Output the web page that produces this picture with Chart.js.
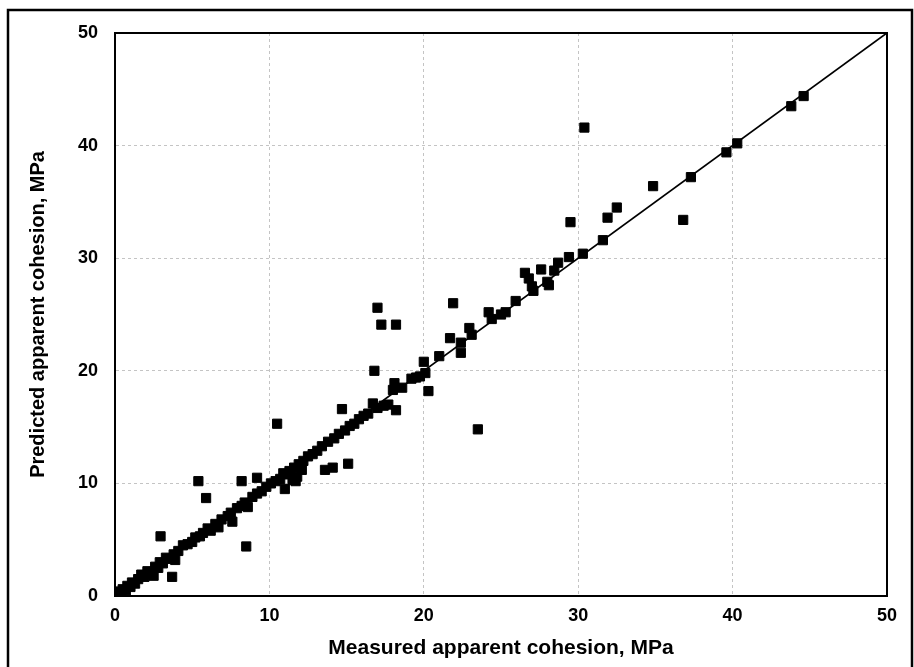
<!DOCTYPE html>
<html>
<head>
<meta charset="utf-8">
<script src="https://cdn.jsdelivr.net/npm/chart.js@4.4.1/dist/chart.umd.min.js"></script>
<style>
  html, body { margin: 0; padding: 0; background: #fff; }
  #wrap { width: 914px; height: 667px; position: relative; }
</style>
</head>
<body>
<div id="wrap"><canvas id="cohesionChart" width="914" height="667"></canvas></div>
<script>
// measured vs predicted apparent cohesion (MPa)
const measured = [
  0.1, 0.2, 0.4, 0.5, 0.7, 0.8, 1.0, 1.1, 1.3, 1.5, 1.7, 1.9, 2.1, 2.3, 2.5, 2.6, 2.8, 2.9, 3.1, 3.3,
  3.5, 3.7, 3.8, 3.9, 4.1, 4.4, 4.7, 5.0, 5.2, 5.5, 5.7, 6.0, 6.2, 6.5, 6.7, 6.9, 7.3, 7.5, 7.6, 7.9,
  8.2, 8.4, 8.6, 8.9, 9.2, 9.5, 9.8, 10.1, 10.4,
  2.95, 5.4, 5.9, 8.2, 8.5, 9.2, 10.5,
  10.7, 10.9, 11.0, 11.1, 11.3, 11.5, 11.6, 11.7, 11.8, 11.9, 12.1, 12.2, 12.5, 12.8, 13.1, 13.4, 13.6, 13.8,
  14.1, 14.2, 14.5, 14.7, 14.9, 15.1, 15.2, 15.5, 15.8, 16.1, 16.4, 16.7, 16.8, 17.0, 17.0, 17.25,
  17.4, 17.7, 18.0, 18.1, 18.2, 18.2, 18.6, 19.2, 19.5, 19.75, 20.0, 20.3, 20.1,
  21.0, 21.7, 21.9, 22.4, 22.4, 22.95, 23.1, 23.5, 24.2, 24.4, 25.0, 25.3, 25.95, 26.55, 26.8, 27.0,
  27.1, 27.6, 28.0, 28.1, 28.45, 28.7, 29.4, 29.5, 30.3, 30.4,
  31.6, 31.9, 32.5, 34.85, 36.8, 37.3, 39.6, 40.3, 43.8, 44.6
];
const predicted = [
  0.1, 0.4, 0.2, 0.6, 0.5, 0.9, 0.8, 1.2, 1.1, 1.5, 1.9, 1.7, 2.2, 1.9, 1.8, 2.6, 2.5, 3.0, 2.9, 3.4,
  3.3, 1.7, 3.7, 3.2, 4.0, 4.5, 4.6, 4.8, 5.2, 5.3, 5.6, 6.0, 5.8, 6.4, 6.1, 6.8, 7.1, 7.4, 6.6, 7.8,
  8.0, 8.3, 7.9, 8.8, 9.1, 9.3, 9.7, 10.0, 10.2,
  5.3, 10.2, 8.7, 10.2, 4.4, 10.5, 15.3,
  10.4, 10.9, 9.5, 10.8, 11.1, 10.3, 11.4, 10.2, 10.6, 11.7, 11.2, 12.0, 12.4, 12.6, 12.9, 13.3, 11.2, 13.7,
  11.4, 14.0, 14.4, 16.6, 14.7, 11.75, 15.1, 15.3, 15.7, 16.0, 16.2, 17.1, 20.0, 16.7, 25.6, 24.1,
  16.9, 17.0, 18.3, 18.9, 16.5, 24.1, 18.5, 19.3, 19.4, 19.5, 20.8, 18.2, 19.8,
  21.3, 22.9, 26.0, 22.5, 21.6, 23.8, 23.2, 14.8, 25.2, 24.6, 25.0, 25.2, 26.2, 28.7, 28.2, 27.5,
  27.1, 29.0, 27.9, 27.6, 28.9, 29.6, 30.1, 33.2, 30.4, 41.6,
  31.6, 33.6, 34.5, 36.4, 33.4, 37.2, 39.4, 40.2, 43.5, 44.4
];
const axisTicks = [0, 10, 20, 30, 40, 50];
const lineEnds = [0, 50];

const points = measured.map((x, i) => ({ x, y: predicted[i] }));
const oneToOne = lineEnds.map(v => ({ x: v, y: v }));

// outer picture frame and closed plot box
const framePlugin = {
  id: 'frame',
  afterDraw(chart) {
    const { ctx, chartArea: a } = chart;
    ctx.save();
    ctx.strokeStyle = '#000';
    ctx.lineWidth = 2;
    ctx.strokeRect(a.left, a.top, a.right - a.left, a.bottom - a.top);
    ctx.lineWidth = 2.5;
    ctx.strokeRect(8, 10, 904, 700);
    ctx.restore();
  }
};

const tickFont = { family: 'Liberation Sans, Arial, sans-serif', size: 18, weight: 'bold' };
const titleFont = { family: 'Liberation Sans, Arial, sans-serif', size: 20, weight: 'bold' };
const gridOpts = {
  color: '#c4c4c4',
  lineWidth: 1,
  drawTicks: false
};

new Chart(document.getElementById('cohesionChart').getContext('2d'), {
  data: {
    datasets: [
      {
        type: 'line',
        data: oneToOne,
        borderColor: '#000',
        borderWidth: 1.8,
        pointRadius: 0,
        fill: false,
        order: 0
      },
      {
        type: 'scatter',
        data: points,
        pointStyle: 'rect',
        pointRadius: 6.5,
        backgroundColor: '#000',
        borderColor: '#000',
        borderWidth: 1,
        order: 1
      }
    ]
  },
  options: {
    responsive: false,
    animation: false,
    layout: { padding: { top: 33, right: 27, left: 10, bottom: 0 } },
    plugins: {
      legend: { display: false },
      tooltip: { enabled: false }
    },
    scales: {
      x: {
        type: 'linear',
        min: 0,
        max: 50,
        afterFit(scale) { scale.height = 71; },
        afterBuildTicks(scale) { scale.ticks = axisTicks.map(v => ({ value: v })); },
        grid: gridOpts,
        border: { color: '#000', width: 2, dash: [3, 3] },
        ticks: { color: '#000', font: tickFont, padding: 9, maxRotation: 0 },
        title: {
          display: true,
          text: 'Measured apparent cohesion, MPa',
          color: '#000',
          font: { ...titleFont, size: 21 },
          padding: { top: 0, bottom: 6 }
        }
      },
      y: {
        type: 'linear',
        min: 0,
        max: 50,
        afterFit(scale) { scale.width = 105; },
        afterBuildTicks(scale) { scale.ticks = axisTicks.map(v => ({ value: v })); },
        grid: gridOpts,
        border: { color: '#000', width: 2, dash: [3, 3] },
        ticks: { color: '#000', font: tickFont, padding: 17 },
        title: {
          display: true,
          text: 'Predicted apparent cohesion, MPa',
          color: '#000',
          font: titleFont,
          padding: { top: 16, bottom: 0 }
        }
      }
    }
  },
  plugins: [framePlugin]
});
</script>
</body>
</html>
